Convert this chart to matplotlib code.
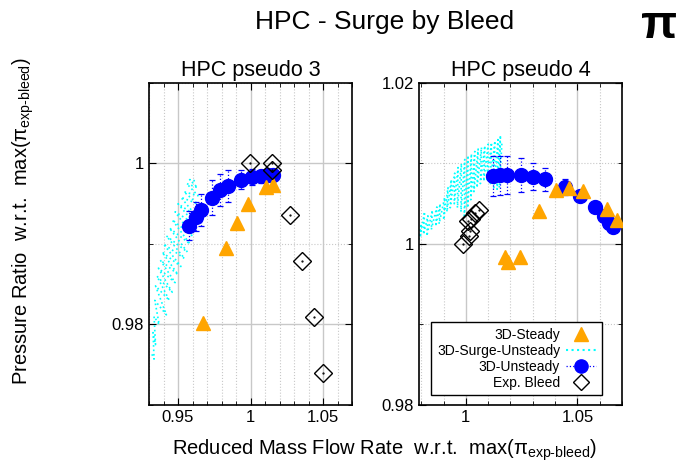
import numpy as np
import matplotlib
matplotlib.use("Agg")
import matplotlib.pyplot as plt
from matplotlib.lines import Line2D
from matplotlib.ticker import MultipleLocator, FuncFormatter

plt.rcParams['font.family'] = ['Liberation Sans', 'DejaVu Sans']
plt.rcParams['mathtext.fontset'] = 'custom'
plt.rcParams['mathtext.rm'] = 'Liberation Sans'
plt.rcParams['mathtext.it'] = 'Liberation Sans'

# ---- HPC pseudo 3 ----
p3_unst_x = [0.9576, 0.9622, 0.9656, 0.9732, 0.9790, 0.9847, 0.9934, 1.0008, 1.0070, 1.0123, 1.0153]
p3_unst_y = [0.99226, 0.99337, 0.99420, 0.99577, 0.99667, 0.99720, 0.99798, 0.99831, 0.99843, 0.99852, 0.99852]
p3_unst_err = [0.0018, 0.0018, 0.0020, 0.0022, 0.0020, 0.0020, 0.0012, 0.0010, 0.0008, 0.0006, 0.0004]

p3_steady_x = [0.9670, 0.9829, 0.9905, 0.9985, 1.0107, 1.0153]
p3_steady_y = [0.98021, 0.98947, 0.99263, 0.99494, 0.99708, 0.99737]

p3_exp_x = [0.9997, 1.0146, 1.0146, 1.0272, 1.0353, 1.0438, 1.0498]
p3_exp_y = [1.0000, 1.00004, 0.99922, 0.99358, 0.98790, 0.98095, 0.97395]

p3_surge_x = [0.9320, 0.9335, 0.9328, 0.9345, 0.9335, 0.9370, 0.9340, 0.9420, 0.9345, 0.9440,
              0.9355, 0.9460, 0.9365, 0.9480, 0.9378, 0.9500, 0.9390, 0.9520, 0.9400, 0.9545,
              0.9420, 0.9565, 0.9440, 0.9583, 0.9460, 0.9600, 0.9480, 0.9615, 0.9500, 0.9625,
              0.9520, 0.9635, 0.9540, 0.9638, 0.9560, 0.9635, 0.9580, 0.9630]
p3_surge_y = [0.9763, 0.9757, 0.9790, 0.9775, 0.9810, 0.9800, 0.9830, 0.9812, 0.9848, 0.9830,
              0.9860, 0.9840, 0.9870, 0.9852, 0.9880, 0.9862, 0.9890, 0.9872, 0.9900, 0.9882,
              0.9910, 0.9890, 0.9920, 0.9900, 0.9930, 0.9910, 0.9940, 0.9925, 0.9950, 0.9935,
              0.9958, 0.9950, 0.9965, 0.9960, 0.9975, 0.9970, 0.9980, 0.9978]

# ---- HPC pseudo 4 ----
p4_unst_x = [1.0120, 1.0153, 1.0186, 1.0248, 1.0302, 1.0353, 1.0446, 1.0510, 1.0577, 1.0618, 1.0641, 1.0661]
p4_unst_y = [1.00845, 1.00853, 1.00857, 1.00853, 1.00836, 1.00803, 1.00712, 1.00600, 1.00460, 1.00348, 1.00265, 1.00215]
p4_unst_err = [0.0025, 0.0024, 0.0024, 0.0021, 0.0017, 0.0014, 0.0010, 0.0007, 0.0004, 0.0002, 0.0001, 0.0001]

p4_steady_x = [1.0176, 1.0191, 1.0243, 1.0330, 1.0404, 1.0464, 1.0524, 1.0634, 1.0679]
p4_steady_y = [0.99842, 0.99780, 0.99835, 1.00414, 1.00671, 1.00692, 1.00658, 1.00431, 1.00298]

p4_exp_x = [0.9988, 1.0015, 1.0020, 1.0008, 1.0022, 1.0040, 1.0058]
p4_exp_y = [1.0000, 1.0010, 1.0016, 1.0028, 1.0031, 1.0038, 1.0042]

p4_surge_x = [0.9785, 0.9800, 0.9795, 0.9815, 0.9810, 0.9830, 0.9825, 0.9850, 0.9845, 0.9870,
              0.9865, 0.9885, 0.9880, 0.9905, 0.9900, 0.9920, 0.9915, 0.9935, 0.9930, 0.9950,
              0.9948, 0.9965, 0.9962, 0.9980, 0.9978, 0.9995, 0.9993, 1.0010, 1.0008, 1.0025,
              1.0022, 1.0040, 1.0036, 1.0055, 1.0050, 1.0070, 1.0065, 1.0085, 1.0080, 1.0100,
              1.0095, 1.0115, 1.0110, 1.0130, 1.0125, 1.0145, 1.0140, 1.0155, 1.0150, 1.0162]
p4_surge_y = [1.0000, 1.0025, 1.0008, 1.0040, 1.0012, 1.0035, 1.0010, 1.0042, 1.0018, 1.0046,
              1.0022, 1.0050, 1.0025, 1.0058, 1.0030, 1.0070, 1.0040, 1.0080, 1.0045, 1.0088,
              1.0050, 1.0095, 1.0045, 1.0100, 1.0040, 1.0105, 1.0035, 1.0110, 1.0045, 1.0112,
              1.0055, 1.0115, 1.0065, 1.0118, 1.0070, 1.0120, 1.0075, 1.0122, 1.0078, 1.0124,
              1.0080, 1.0126, 1.0075, 1.0128, 1.0070, 1.0132, 1.0068, 1.0135, 1.0070, 1.0128]

ORANGE = '#FFA500'
BLUE = '#0000FF'
CYAN = '#00FFFF'

fig = plt.figure(figsize=(6.81, 4.66), dpi=100)
ax1 = fig.add_axes([0.2188, 0.1309, 0.2981, 0.691])
ax2 = fig.add_axes([0.6153, 0.1309, 0.2981, 0.691])

fmt = FuncFormatter(lambda v, p: '%g' % round(v, 4))


def draw(ax, sx, sy, ux, uy, ue, tx, ty, ex, ey):
    ax.plot(sx, sy, ls=':', color=CYAN, lw=1.2, zorder=2)
    eb = ax.errorbar(ux, uy, yerr=ue, fmt='o', color=BLUE, ms=10, ecolor=BLUE,
                     elinewidth=0.9, capsize=2, capthick=0.9, zorder=3)
    eb[2][0].set_linestyle(':')
    ax.plot(tx, ty, '^', color=ORANGE, ms=10, ls='none', zorder=4)
    ax.plot(ex, ey, 'D', mfc='none', mec='black', mew=1.0, ms=9, ls='none', zorder=5)
    ax.plot(ex, ey, '.', color='black', ms=1.2, ls='none', zorder=5)
    ax.grid(which='major', color='#c8c8c8', lw=1.0, ls='-')
    ax.grid(which='minor', color='#c8c8c8', lw=0.8, ls=':')
    ax.set_axisbelow(True)
    ax.tick_params(which='both', direction='in', top=True, right=True, labelsize=12)
    ax.tick_params(which='major', length=5)
    ax.tick_params(which='minor', length=3)
    ax.xaxis.set_major_formatter(fmt)
    ax.yaxis.set_major_formatter(fmt)
    for s in ax.spines.values():
        s.set_linewidth(1.2)


draw(ax1, p3_surge_x, p3_surge_y, p3_unst_x, p3_unst_y, p3_unst_err,
     p3_steady_x, p3_steady_y, p3_exp_x, p3_exp_y)
ax1.set_xlim(0.93, 1.07)
ax1.set_ylim(0.97, 1.01)
ax1.xaxis.set_major_locator(MultipleLocator(0.05))
ax1.xaxis.set_minor_locator(MultipleLocator(0.01))
ax1.yaxis.set_major_locator(MultipleLocator(0.02))
ax1.yaxis.set_minor_locator(MultipleLocator(0.01))
ax1.set_title('HPC pseudo 3', fontsize=15.5, pad=5)

draw(ax2, p4_surge_x, p4_surge_y, p4_unst_x, p4_unst_y, p4_unst_err,
     p4_steady_x, p4_steady_y, p4_exp_x, p4_exp_y)
ax2.set_xlim(0.979, 1.07)
ax2.set_ylim(0.98, 1.02)
ax2.xaxis.set_major_locator(MultipleLocator(0.05))
ax2.xaxis.set_minor_locator(MultipleLocator(0.01))
ax2.yaxis.set_major_locator(MultipleLocator(0.02))
ax2.yaxis.set_minor_locator(MultipleLocator(0.01))
ax2.set_title('HPC pseudo 4', fontsize=15.5, pad=5)

handles = [
    Line2D([], [], marker='^', color=ORANGE, ms=10, ls='none'),
    Line2D([], [], color=CYAN, ls=':', lw=1.5),
    Line2D([], [], marker='o', color=BLUE, ms=9.5, ls=':', lw=0.9),
    Line2D([], [], marker='D', mfc='none', mec='black', ms=8, ls='none'),
]
labels = ['3D-Steady', '3D-Surge-Unsteady', '3D-Unsteady', 'Exp. Bleed']
leg = ax2.legend(handles, labels, loc='lower right', bbox_to_anchor=(0.9, 0.03),
                 markerfirst=False, fontsize=10, frameon=True, fancybox=False,
                 edgecolor='black', framealpha=1, handlelength=2.2,
                 borderpad=0.4, labelspacing=0.15, handletextpad=0.4, borderaxespad=0)
leg.get_frame().set_linewidth(1.0)
for t in leg.get_texts():
    t.set_ha('right')

fig.text(0.565, 0.952, 'HPC - Surge by Bleed', fontsize=19, ha='center', va='center')
fig.text(0.968, 0.945, 'π', fontsize=34, fontweight='bold', ha='center', va='center')
fig.text(0.565, 0.034, r'Reduced Mass Flow Rate  w.r.t.  max(π$_{\rm exp\text{-}bleed}$)',
         fontsize=14.5, ha='center', va='center')
fig.text(0.034, 0.525, r'Pressure Ratio  w.r.t.  max(π$_{\rm exp\text{-}bleed}$)',
         fontsize=14.5, ha='center', va='center', rotation=90)

fig.savefig('out.png', dpi=100)
